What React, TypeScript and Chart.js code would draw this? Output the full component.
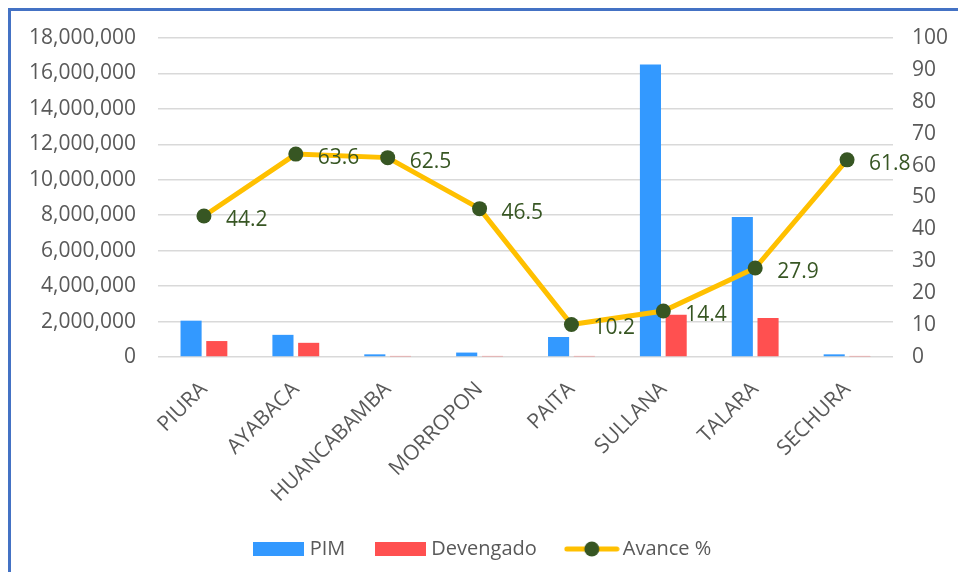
import React, { useEffect, useRef } from "react";
import { Chart, registerables } from "chart.js";

Chart.register(...registerables);

const categories = ["PIURA", "AYABACA", "HUANCABAMBA", "MORROPON", "PAITA", "SULLANA", "TALARA", "SECHURA"];
const pim = [2050000, 1250000, 150000, 250000, 1130000, 16500000, 7900000, 150000];
const devengado = [900000, 800000, 60000, 60000, 60000, 2380000, 2200000, 60000];
const avance = [44.2, 63.6, 62.5, 46.5, 10.2, 14.4, 27.9, 61.8];

const BLUE = "#3399FF";
const RED = "#FF5050";
const GOLD = "#FFC000";
const GREEN = "#375623";
const TXT = "#595959";
const FONT = "'Open Sans', sans-serif";

function rectImg(color: string) {
  const c = document.createElement("canvas");
  c.width = 51;
  c.height = 14;
  const g = c.getContext("2d")!;
  g.fillStyle = color;
  g.fillRect(0, 0, 51, 14);
  return c;
}

function lineImg() {
  const c = document.createElement("canvas");
  c.width = 56;
  c.height = 18;
  const g = c.getContext("2d")!;
  g.strokeStyle = GOLD;
  g.lineWidth = 5;
  g.lineCap = "round";
  g.beginPath();
  g.moveTo(3, 9);
  g.lineTo(53, 9);
  g.stroke();
  g.fillStyle = GREEN;
  g.beginPath();
  g.arc(28, 9, 7.5, 0, Math.PI * 2);
  g.fill();
  return c;
}

const labelPlugin = {
  id: "avanceLabels",
  afterDatasetsDraw(chart: any) {
    const meta = chart.getDatasetMeta(2);
    const ctx = chart.ctx;
    ctx.save();
    ctx.font = `21px ${FONT}`;
    ctx.fillStyle = GREEN;
    ctx.textAlign = "left";
    ctx.textBaseline = "middle";
    meta.data.forEach((pt: any, i: number) => {
      ctx.fillText(avance[i].toFixed(1), pt.x + 22, pt.y + 4);
    });
    ctx.restore();
  },
};

export default function App() {
  const ref = useRef<HTMLCanvasElement | null>(null);
  useEffect(() => {
    if (!ref.current) return;
    const imgs = [rectImg(BLUE), rectImg(RED), lineImg()];
    const names = ["PIM", "Devengado", "Avance %"];
    const chart = new Chart(ref.current, {
      type: "bar",
      data: {
        labels: categories,
        datasets: [
          {
            type: "bar",
            label: "PIM",
            data: pim,
            backgroundColor: BLUE,
            yAxisID: "y",
            order: 2,
            categoryPercentage: 0.56,
            barPercentage: 0.82,
          },
          {
            type: "bar",
            label: "Devengado",
            data: devengado,
            backgroundColor: RED,
            yAxisID: "y",
            order: 3,
            categoryPercentage: 0.56,
            barPercentage: 0.82,
          },
          {
            type: "line",
            label: "Avance %",
            data: avance,
            borderColor: GOLD,
            backgroundColor: GREEN,
            borderWidth: 5,
            pointRadius: 7.5,
            pointBackgroundColor: GREEN,
            pointBorderColor: GREEN,
            pointBorderWidth: 0,
            yAxisID: "y1",
            order: 0,
            tension: 0,
          } as any,
        ],
      },
      options: {
        responsive: false,
        animation: false,
        devicePixelRatio: 1,
        layout: { padding: { top: 27, left: 0, right: 0, bottom: 3 } },
        plugins: {
          tooltip: { enabled: false },
          legend: {
            position: "bottom",
            labels: {
              usePointStyle: true,
              pointStyleWidth: 42,
              padding: 34,
              color: TXT,
              font: { family: FONT, size: 20 },
              generateLabels: () =>
                names.map((n, i) => ({
                  text: n,
                  pointStyle: imgs[i] as any,
                  datasetIndex: i,
                  hidden: false,
                  fillStyle: "transparent",
                  strokeStyle: "transparent",
                  lineWidth: 0,
                  fontColor: TXT,
                })),
            },
          },
        },
        scales: {
          x: {
            grid: { display: false },
            border: { display: false },
            ticks: {
              color: TXT,
              font: { family: FONT, size: 21 },
              minRotation: 45,
              maxRotation: 45,
              padding: 12,
            },
            afterFit: (s: any) => {
              s.height = 148;
            },
          },
          y: {
            position: "left",
            min: 0,
            max: 18000000,
            ticks: {
              stepSize: 2000000,
              color: TXT,
              font: { family: FONT, size: 21 },
              padding: 0,
              callback: (v: any) => Number(v).toLocaleString("en-US"),
            },
            grid: {
              color: "#d9d9d9",
              lineWidth: 1.5,
              drawTicks: true,
              tickLength: 22,
              tickColor: "rgba(0,0,0,0)",
            },
            border: { display: false },
            afterFit: (s: any) => {
              s.width = 147;
            },
          },
          y1: {
            position: "right",
            min: 0,
            max: 100,
            ticks: {
              stepSize: 10,
              color: TXT,
              font: { family: FONT, size: 21 },
              padding: 0,
            },
            grid: { display: false, drawTicks: true, tickLength: 19 },
            border: { display: false },
            afterFit: (s: any) => {
              s.width = 65;
            },
          },
        },
      },
      plugins: [labelPlugin],
    });
    return () => chart.destroy();
  }, []);

  return (
    <div
      style={{
        width: 950,
        height: 564,
        boxSizing: "border-box",
        borderTop: "3px solid #4472C4",
        borderLeft: "3px solid #4472C4",
        background: "#fff",
      }}
    >
      <canvas ref={ref} width={947} height={561} style={{ display: "block" }} />
    </div>
  );
}
